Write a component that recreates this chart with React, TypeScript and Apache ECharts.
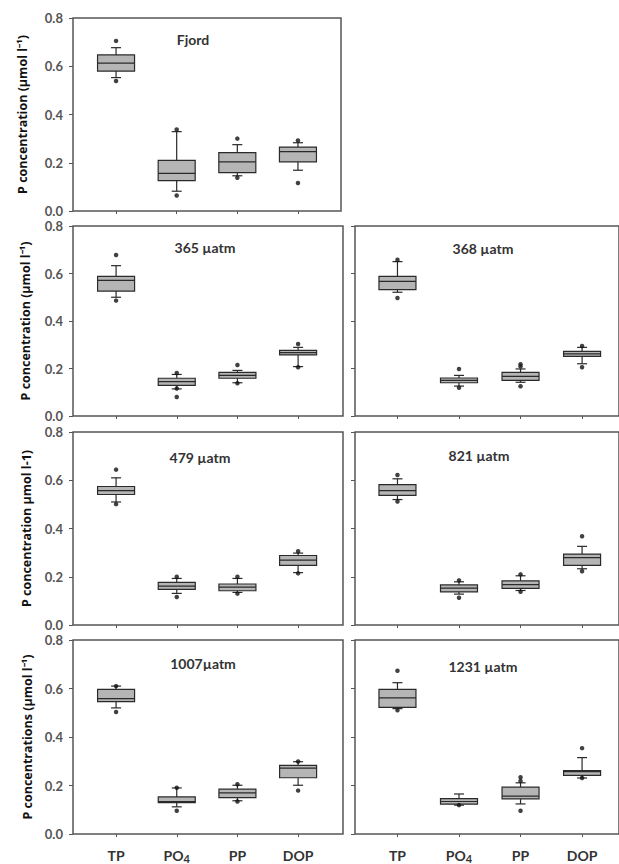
import React, { useEffect, useRef } from "react";
import * as echarts from "echarts";

// ---------- DATA ----------
const categories = ["TP", "PO4", "PP", "DOP"];
const categoryPositions = [1, 2, 3, 4];
const yTicks = [0, 0.2, 0.4, 0.6, 0.8];

// each box: [lower whisker, Q1, median, Q3, upper whisker]
const fjordBoxes = [
  [0.553, 0.58, 0.613, 0.647, 0.677],
  [0.082, 0.126, 0.156, 0.21, 0.329],
  [0.146, 0.159, 0.204, 0.242, 0.275],
  [0.169, 0.204, 0.246, 0.265, 0.283],
];
const fjordDots = [[0.705, 0.539], [0.338, 0.064], [0.3, 0.138], [0.292, 0.116]];

const atm365Boxes = [
  [0.5, 0.526, 0.571, 0.588, 0.633],
  [0.114, 0.129, 0.145, 0.159, 0.175],
  [0.14, 0.159, 0.171, 0.184, 0.192],
  [0.208, 0.257, 0.267, 0.276, 0.289],
];
const atm365Dots = [[0.678, 0.486], [0.181, 0.116, 0.08], [0.215, 0.138], [0.303, 0.205]];

const atm368Boxes = [
  [0.521, 0.532, 0.567, 0.588, 0.65],
  [0.126, 0.14, 0.15, 0.16, 0.171],
  [0.142, 0.15, 0.167, 0.184, 0.198],
  [0.22, 0.251, 0.262, 0.272, 0.289],
];
const atm368Dots = [[0.658, 0.497], [0.198, 0.119], [0.218, 0.208, 0.125], [0.295, 0.205]];

const atm479Boxes = [
  [0.51, 0.541, 0.557, 0.574, 0.61],
  [0.131, 0.148, 0.161, 0.177, 0.193],
  [0.135, 0.142, 0.157, 0.17, 0.193],
  [0.217, 0.247, 0.269, 0.288, 0.298],
];
const atm479Dots = [[0.644, 0.501], [0.2, 0.116], [0.2, 0.13], [0.306, 0.214]];

const atm821Boxes = [
  [0.52, 0.537, 0.557, 0.582, 0.606],
  [0.128, 0.137, 0.153, 0.166, 0.179],
  [0.143, 0.152, 0.167, 0.183, 0.204],
  [0.233, 0.247, 0.279, 0.294, 0.326],
];
const atm821Dots = [[0.622, 0.512], [0.185, 0.113], [0.21, 0.138], [0.368, 0.223]];

const atm1007Boxes = [
  [0.52, 0.546, 0.558, 0.596, 0.61],
  [0.112, 0.129, 0.134, 0.153, 0.19],
  [0.137, 0.15, 0.17, 0.185, 0.201],
  [0.201, 0.232, 0.272, 0.283, 0.298],
];
const atm1007Dots = [[0.61, 0.503], [0.191, 0.096], [0.205, 0.134], [0.299, 0.179]];

const atm1231Boxes = [
  [0.517, 0.522, 0.561, 0.596, 0.624],
  [0.119, 0.123, 0.134, 0.146, 0.165],
  [0.124, 0.145, 0.156, 0.193, 0.211],
  [0.231, 0.242, 0.257, 0.261, 0.315],
];
const atm1231Dots = [[0.673, 0.51], [0.119], [0.234, 0.219, 0.096], [0.354, 0.231]];

const panelTitles = ["Fjord", "365 µatm", "368 µatm", "479 µatm", "821 µatm", "1007µatm", "1231 µatm"];
const yAxisTitles = [
  "P concentration (µmol l⁻¹)",
  "P concentration (µmol l⁻¹)",
  "P concentration µmol l-1)",
  "P concentrations (µmol l⁻¹)",
];

// ---------- LAYOUT ----------
const rows = [
  { top: 18, bottom: 211 },
  { top: 226, bottom: 416 },
  { top: 432, bottom: 625 },
  { top: 640, bottom: 834 },
];
const leftCol = { left: 73, right: 343, min: 0.29, max: 4.74 };
const fjordCol = { left: 73, right: 341, min: 0.29, max: 4.71 };
const rightCol = { left: 355, right: 622, min: 0.31, max: 4.6 };

const panels = [
  { boxes: fjordBoxes, dots: fjordDots, row: 0, col: fjordCol, labels: true, title: [193, 39] },
  { boxes: atm365Boxes, dots: atm365Dots, row: 1, col: leftCol, labels: true, title: [205, 247] },
  { boxes: atm368Boxes, dots: atm368Dots, row: 1, col: rightCol, labels: false, title: [483, 248] },
  { boxes: atm479Boxes, dots: atm479Dots, row: 2, col: leftCol, labels: true, title: [200, 457] },
  { boxes: atm821Boxes, dots: atm821Dots, row: 2, col: rightCol, labels: false, title: [479, 455] },
  { boxes: atm1007Boxes, dots: atm1007Dots, row: 3, col: leftCol, labels: true, title: [203, 663] },
  { boxes: atm1231Boxes, dots: atm1231Dots, row: 3, col: rightCol, labels: false, title: [483, 666] },
];
const yTitleX = [22, 25, 26, 27];

const FONT = "Lato";
const INK = "#2a2a2a";

const renderBox = (params: any, api: any) => {
  const x = api.value(0);
  const lo = api.value(1), q1 = api.value(2), med = api.value(3), q3 = api.value(4), hi = api.value(5);
  const cx = api.coord([x, 0])[0];
  const py = (v: number) => api.coord([x, v])[1];
  const hw = 18.5;
  const cw = 5;
  const ls = { stroke: INK, lineWidth: 1.2 };
  return {
    type: "group",
    children: [
      { type: "line", shape: { x1: cx, y1: py(hi), x2: cx, y2: py(q3) }, style: ls },
      { type: "line", shape: { x1: cx - cw, y1: py(hi), x2: cx + cw, y2: py(hi) }, style: ls },
      { type: "line", shape: { x1: cx, y1: py(lo), x2: cx, y2: py(q1) }, style: ls },
      { type: "line", shape: { x1: cx - cw, y1: py(lo), x2: cx + cw, y2: py(lo) }, style: ls },
      {
        type: "rect",
        shape: { x: cx - hw, y: py(q3), width: hw * 2, height: py(q1) - py(q3) },
        style: { fill: "#b5b5b5", stroke: INK, lineWidth: 1.2 },
      },
      { type: "line", shape: { x1: cx - hw, y1: py(med), x2: cx + hw, y2: py(med) }, style: ls },
    ],
  };
};

export default function App() {
  const ref = useRef<HTMLDivElement>(null);
  useEffect(() => {
    if (!ref.current) return;
    const chart = echarts.init(ref.current, null, { renderer: "svg" });
    const grid: any[] = [];
    const xAxis: any[] = [];
    const yAxis: any[] = [];
    const series: any[] = [];
    const graphic: any[] = [];

    panels.forEach((p, i) => {
      const r = rows[p.row];
      const isBottom = p.row === 3;
      grid.push({
        left: p.col.left,
        top: r.top,
        width: p.col.right - p.col.left,
        height: r.bottom - r.top,
        show: true,
        borderColor: "#555",
        borderWidth: 1.5,
        backgroundColor: "transparent",
        containLabel: false,
      });
      xAxis.push({
        type: "value",
        gridIndex: i,
        min: p.col.min,
        max: p.col.max,
        axisLine: { show: false },
        splitLine: { show: false },
        axisTick: {
          show: true,
          customValues: categoryPositions,
          length: 3,
          lineStyle: { color: "#555", width: 1 },
        },
        axisLabel: {
          show: isBottom,
          customValues: categoryPositions,
          margin: 12,
          formatter: (v: number) => {
            const c = categories[Math.round(v) - 1] || "";
            return c === "PO4" ? "{b|PO}{s|4}" : "{b|" + c + "}";
          },
          rich: {
            b: { fontFamily: FONT, fontSize: 14, fontWeight: "bold", color: "#333", lineHeight: 18 },
            s: { fontFamily: FONT, fontSize: 11, fontWeight: "bold", color: "#333", lineHeight: 18, padding: [7, 0, 0, 0] },
          },
        },
      });
      yAxis.push({
        type: "value",
        gridIndex: i,
        min: 0,
        max: 0.8,
        interval: 0.2,
        axisLine: { show: false },
        splitLine: { show: false },
        axisTick: { show: true, length: 4, lineStyle: { color: "#555", width: 1 } },
        axisLabel: {
          show: p.labels,
          margin: 10,
          fontFamily: FONT,
          fontSize: 13,
          lineHeight: 11,
          fontWeight: "bold",
          color: "#555",
          formatter: (v: number) => (yTicks.some((t) => Math.abs(t - v) < 1e-6) ? v.toFixed(1) : ""),
        },
      });
      series.push({
        type: "custom",
        xAxisIndex: i,
        yAxisIndex: i,
        renderItem: renderBox,
        encode: { x: 0, y: [1, 2, 3, 4, 5] },
        data: p.boxes.map((b, k) => [categoryPositions[k], ...b]),
        z: 2,
      });
      const dotData: number[][] = [];
      p.dots.forEach((arr, k) => arr.forEach((v) => dotData.push([categoryPositions[k], v])));
      series.push({
        type: "scatter",
        xAxisIndex: i,
        yAxisIndex: i,
        symbol: "circle",
        symbolSize: 4.5,
        itemStyle: { color: "#111" },
        data: dotData,
        z: 3,
      });
      graphic.push({
        type: "text",
        x: p.title[0],
        y: p.title[1],
        style: {
          text: panelTitles[i],
          fontFamily: FONT,
          fontSize: 14,
          fontWeight: "bold",
          fill: "#333",
          textAlign: "center",
          textVerticalAlign: "middle",
        },
      });
    });

    rows.forEach((r, k) => {
      graphic.push({
        type: "text",
        x: yTitleX[k],
        y: (r.top + r.bottom) / 2,
        rotation: Math.PI / 2,
        style: {
          text: yAxisTitles[k],
          fontFamily: "Open Sans",
          fontSize: 12.5,
          fontWeight: "bold",
          fill: "#111",
          textAlign: "center",
          textVerticalAlign: "middle",
        },
      });
    });

    chart.setOption({
      animation: false,
      backgroundColor: "#fff",
      grid,
      xAxis,
      yAxis,
      series,
      graphic,
    });
    return () => chart.dispose();
  }, []);
  return (
    <div
      ref={ref}
      style={{ position: "fixed", left: 0, top: 0, width: 619, height: 864, background: "#fff" }}
    />
  );
}
